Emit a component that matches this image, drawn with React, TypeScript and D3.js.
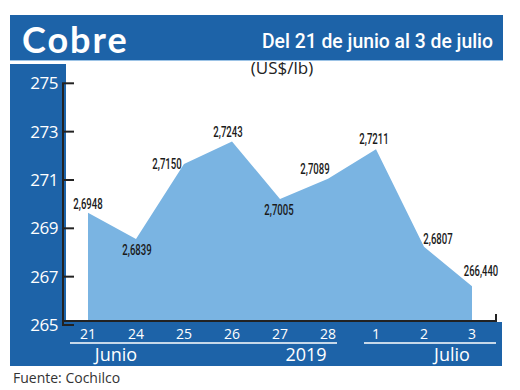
import React from "react";
import * as d3 from "d3";

const days = ["21", "24", "25", "26", "27", "28", "1", "2", "3"];
const values = [269.48, 268.39, 271.5, 272.43, 270.05, 270.89, 272.11, 268.07, 266.44];
const valueLabels = ["2,6948", "2,6839", "2,7150", "2,7243", "2,7005", "2,7089", "2,7211", "2,6807", "266,440"];
const labelOffsets: [number, number][] = [
  [0, -4], [1, 16], [-17, 5], [-4, -4], [-1, 16], [-13, -5], [-2, -5], [14, -3], [9, -10],
];
const yTicks = [265, 267, 269, 271, 273, 275];
const groups = [
  { label: "Junio", x0: 70, x1: 337, cx: 116 },
  { label: "2019", x0: null, x1: null, cx: 306 },
  { label: "Julio", x0: 364, x1: 496, cx: 452 },
];

const BLUE = "#1d63a8";
const AREA = "#7ab4e2";

export default function App() {
  const x = d3.scalePoint<string>().domain(days).range([88, 472]);
  const y = d3.scaleLinear().domain([265, 275]).range([321, 79.3]);
  const tickShift = 4;
  const data = days.map((d, i) => ({ d, v: values[i] }));
  const area = d3
    .area<{ d: string; v: number }>()
    .x((p) => x(p.d)!)
    .y0(y(265))
    .y1((p) => y(p.v));

  return (
    <svg width={520} height={390} style={{ position: "absolute", left: 0, top: 0 }}>
      <rect width={520} height={390} fill="#fff" />
      {/* header */}
      <rect x={10} y={15} width={493} height={45} fill={BLUE} />
      <line x1={10} x2={503} y1={60.5} y2={60.5} stroke="#9cc3e6" strokeWidth={1} />
      <text x={22} y={53} fill="#fff" fontFamily="Lato" fontWeight={700} fontSize={36} letterSpacing={2}>
        Cobre
      </text>
      <text
        x={262}
        y={48}
        fill="#fff"
        fontFamily="Roboto"
        fontWeight={500}
        fontSize={21}
        textLength={231}
        lengthAdjust="spacingAndGlyphs"
      >
        Del 21 de junio al 3 de julio
      </text>
      {/* left panel & bottom band */}
      <rect x={10} y={64} width={56} height={302} fill={BLUE} />
      <rect x={10} y={322} width={492} height={44} fill={BLUE} />
      <text x={282} y={74} textAnchor="middle" fontFamily="'Open Sans'" fontSize={17} fill="#222">
        (US$/lb)
      </text>
      {/* area */}
      <path d={area(data) || ""} fill={AREA} />
      {/* axes */}
      <line x1={63} x2={63} y1={y(275) + tickShift} y2={y(265) + tickShift} stroke="#222" strokeWidth={2} />
      {yTicks.map((t) => (
        <g key={t}>
          <line x1={62} x2={74} y1={y(t) + tickShift} y2={y(t) + tickShift} stroke="#222" strokeWidth={2} />
          <text
            x={58}
            y={y(t) + tickShift + 6}
            textAnchor="end"
            fill="#fff"
            fontFamily="'Open Sans'"
            fontSize={17}
            letterSpacing={-0.5}
          >
            {t}
          </text>
        </g>
      ))}
      <line x1={62} x2={497} y1={y(265)} y2={y(265)} stroke="#222" strokeWidth={2} />
      <line x1={496} x2={496} y1={314} y2={322} stroke="#222" strokeWidth={2} />
      {days.map((d) => (
        <text key={d} x={x(d)} y={339} textAnchor="middle" fill="#fff" fontFamily="'Open Sans'" fontSize={14}>
          {d}
        </text>
      ))}
      {groups.map((g) => (
        <g key={g.label}>
          {g.x0 !== null && (
            <line x1={g.x0} x2={g.x1!} y1={343} y2={343} stroke="#fff" strokeWidth={1.5} />
          )}
          <text x={g.cx} y={361} textAnchor="middle" fill="#fff" fontFamily="'Open Sans'" fontSize={18}>
            {g.label}
          </text>
        </g>
      ))}
      {/* value labels */}
      {data.map((p, i) => (
        <text
          key={p.d}
          x={x(p.d)! + labelOffsets[i][0]}
          y={y(p.v) + labelOffsets[i][1]}
          textAnchor="middle"
          fill="#1a1a1a"
          fontFamily="Roboto"
          fontWeight={500}
          fontSize={14.5}
          textLength={valueLabels[i].length * 4.9}
          lengthAdjust="spacingAndGlyphs"
        >
          {valueLabels[i]}
        </text>
      ))}
      <text x={13} y={383} fill="#333" fontFamily="'Open Sans'" fontSize={14}>
        Fuente: Cochilco
      </text>
    </svg>
  );
}
